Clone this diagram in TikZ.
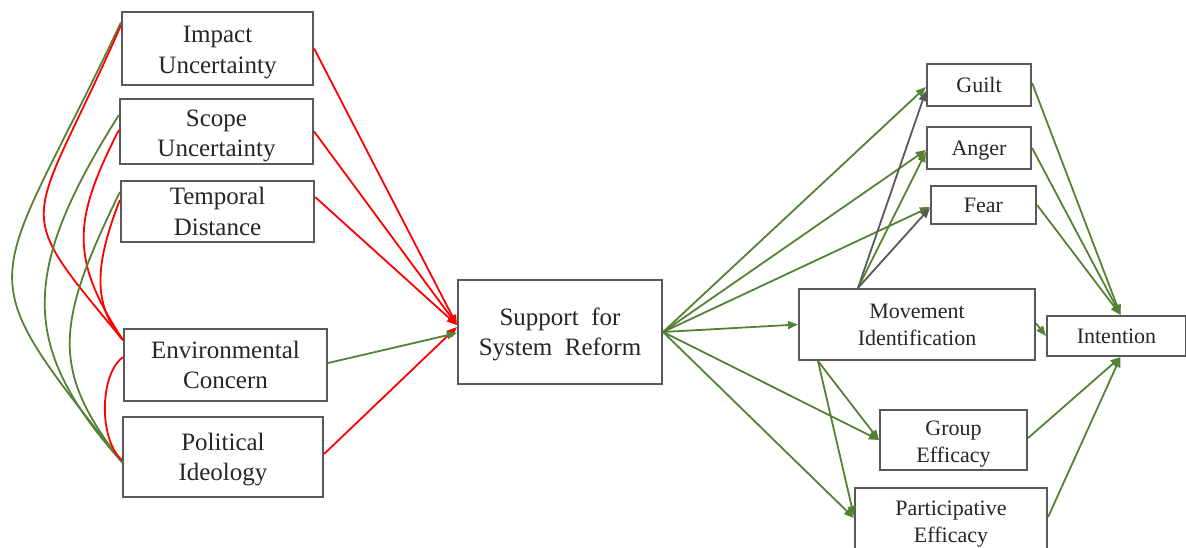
\documentclass[tikz,border=0pt]{standalone}
\usepackage{fontspec}
\setmainfont{Liberation Serif}
\usetikzlibrary{arrows.meta}
\definecolor{boxgray}{RGB}{89,89,89}
\definecolor{pathgreen}{RGB}{84,130,53}
\definecolor{pathred}{RGB}{255,0,0}
\definecolor{pathgray}{RGB}{89,89,89}
\definecolor{textdark}{RGB}{38,38,38}
% invisible rule that raises the top of a text block
\newcommand\boxtop[1]{\rule{0pt}{#1}}
\begin{document}
\begin{tikzpicture}[x=1pt,y=-1pt,
  box/.style={draw=boxgray, line width=2.2pt, fill=white, inner sep=0pt, align=center, text=textdark},
  bigtext/.style={font=\fontsize{25}{30.5}\selectfont},
  smalltext/.style={font=\fontsize{22}{27}\selectfont},
  link/.style={line width=1.8pt},
  arr/.style={link, -{Triangle[length=10pt,width=8pt]}},
  posline/.style={draw=pathgreen},
  negline/.style={draw=pathred},
  nsline/.style={draw=pathgray}]
\useasboundingbox (0,0) rectangle (1186,548);
\clip (0,0) rectangle (1186,548);

% predictors
\node[box,bigtext,minimum width=191pt,minimum height=73pt] (imp) at (217.5,48.5) {\boxtop{24.5pt}Impact\\Uncertainty};
\node[box,bigtext,minimum width=193pt,minimum height=65pt] (scope) at (216.5,131.5) {\boxtop{25pt}Scope\\Uncertainty};
\node[box,bigtext,minimum width=193pt,minimum height=61pt] (temp) at (217.5,211.5) {Temporal\\Distance};
\node[box,bigtext,minimum width=203pt,minimum height=72pt] (env) at (225.5,365) {Environmental\\Concern};
\node[box,bigtext,minimum width=200pt,minimum height=80pt] (pol) at (223,457) {\boxtop{22pt}Political\\Ideology};

% mediator
\node[box,bigtext,minimum width=204pt,minimum height=104pt] (sup) at (560,332) {\boxtop{22pt}Support\ \ for\\System\ \ Reform};

% outcomes
\node[box,smalltext,minimum width=104pt,minimum height=42pt] (guilt) at (979,85) {Guilt};
\node[box,smalltext,minimum width=104pt,minimum height=42pt] (anger) at (979,148) {\boxtop{20.6pt}Anger};
\node[box,smalltext,minimum width=105pt,minimum height=38pt] (fear) at (983.5,205) {Fear};
\node[box,smalltext,minimum width=236pt,minimum height=71pt] (mov) at (917,324.5) {Movement\\Identification};
\node[box,smalltext,minimum width=139pt,minimum height=40pt] (intent) at (1116.5,336) {Intention};
\node[box,smalltext,minimum width=147pt,minimum height=60pt] (grp) at (953.5,440) {\boxtop{22pt}Group\\Efficacy};
\node[box,smalltext,minimum width=192pt,minimum height=72pt] (part) at (951,524) {Participative\\Efficacy};

% correlations among predictors
\draw[link,posline] ([yshift=26pt]imp.west) .. controls (-10,300) and (-38,259) .. ([yshift=-5pt]pol.west);
\draw[link,negline] ([yshift=23pt]imp.west) .. controls (29,235) and (7,200) .. ([yshift=25pt]env.west);
\draw[link,posline] ([yshift=16.5pt]scope.west) .. controls (20,272) and (19,346) .. ([yshift=-5pt]pol.west);
\draw[link,negline] ([yshift=1.5pt]scope.west) .. controls (71.5,222.5) and (71,260) .. ([yshift=25pt]env.west);
\draw[link,posline] ([yshift=19.5pt]temp.west) .. controls (56,323) and (49.4,369) .. ([yshift=-5pt]pol.west);
\draw[link,negline] ([yshift=11.5pt]temp.west) .. controls (94,266) and (93,305.5) .. ([yshift=25pt]env.west);
\draw[link,negline] ([yshift=8pt]env.west) .. controls (99,375) and (99,440) .. ([yshift=-3pt]pol.west);

% predictors to support
\draw[arr,negline] (imp.east) -- ([yshift=7pt]sup.west);
\draw[arr,negline] (scope.east) -- ([yshift=7pt]sup.west);
\draw[arr,negline] ([yshift=14.5pt]temp.east) -- ([yshift=7pt]sup.west);
\draw[arr,negline] ([yshift=3pt]pol.east) -- ([yshift=5pt]sup.west);
\draw[arr,posline] ([yshift=2pt]env.east) -- ([yshift=-1pt]sup.west);

% support to outcomes
\draw[arr,posline] (sup.east) -- ([yshift=-2pt]guilt.west);
\draw[arr,posline] (sup.east) -- ([yshift=-2pt]anger.west);
\draw[arr,posline] (sup.east) -- ([yshift=-2pt]fear.west);
\draw[arr,posline] (sup.east) -- (mov.west);
\draw[arr,posline] (sup.east) -- (grp.west);
\draw[arr,posline] (sup.east) -- ([yshift=6pt]part.west);

% movement identification paths
\draw[arr,nsline]  ([xshift=-59pt]mov.north) -- ([yshift=-6pt]guilt.west);
\draw[arr,posline] ([xshift=-59pt]mov.north) -- ([yshift=-4pt]anger.west);
\draw[arr,nsline]  ([xshift=-59pt]mov.north) -- ([yshift=-3pt]fear.west);
\draw[arr,posline] ([yshift=1pt]mov.east) -- (intent.west);
\draw[arr,posline] ([xshift=-99pt]mov.south) -- (grp.west);
\draw[arr,posline] ([xshift=-99pt]mov.south) -- ([yshift=8pt]part.west);

% outcomes to intention
\draw[arr,posline] ([yshift=2pt]guilt.east) -- ([xshift=4pt]intent.north);
\draw[arr,posline] (anger.east) -- ([xshift=4pt]intent.north);
\draw[arr,posline] (fear.east) -- ([xshift=4pt]intent.north);
\draw[arr,posline] ([yshift=2pt]grp.east) -- ([xshift=4pt]intent.south);
\draw[arr,posline] ([yshift=7pt]part.east) -- ([xshift=4pt]intent.south);
\end{tikzpicture}
\end{document}
